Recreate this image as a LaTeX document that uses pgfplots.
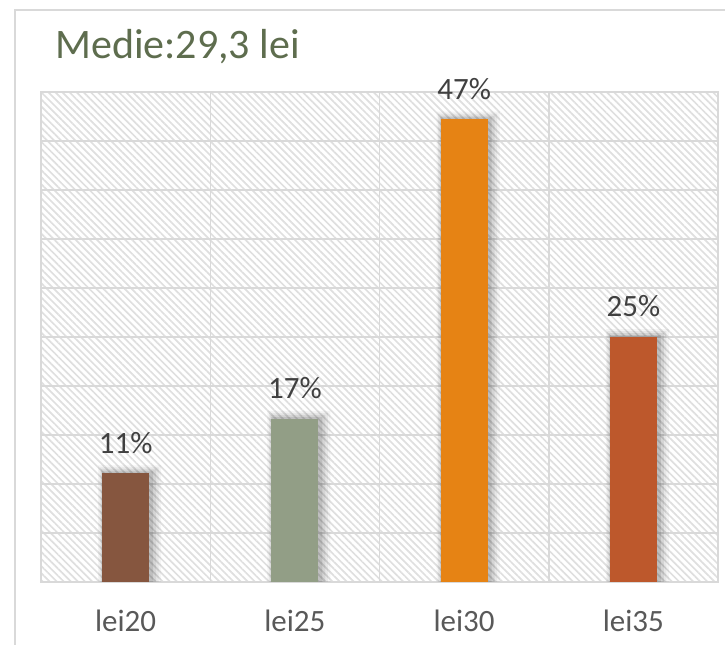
\documentclass[border=0pt]{standalone}
\usepackage{fontspec}
\setmainfont{Carlito}
\usepackage{pgfplots}
\pgfplotsset{compat=1.18}
\usetikzlibrary{patterns.meta}
\definecolor{cA}{HTML}{86563F}
\definecolor{cB}{HTML}{929E86}
\definecolor{cC}{HTML}{E68314}
\definecolor{cD}{HTML}{BD582C}
\definecolor{gridc}{HTML}{D9D9D9}
\definecolor{titlec}{HTML}{5E6D4E}
\definecolor{labc}{HTML}{404040}
\definecolor{tickc}{HTML}{595959}
\begin{document}
\begin{tikzpicture}[x=1bp,y=1bp]
\path[use as bounding box] (0,0) rectangle (725,645);
\draw[gridc, line width=1.5bp] (15,-20) -- (15,635) -- (760,635);
\node[anchor=base west, text=titlec, font=\fontsize{42bp}{50bp}\selectfont, inner sep=0pt] at (55,586) {Medie:29,3 lei};
\begin{axis}[
  at={(41bp,63bp)}, anchor=south west,
  scale only axis, width=677bp, height=490bp,
  xmin=-0.5, xmax=3.5, ymin=0, ymax=50,
  xtick={0,1,2,3}, xticklabels={lei20,lei25,lei30,lei35},
  minor xtick={0.5,1.5,2.5}, xminorgrids=true,
  ytick={0,5,...,50}, ymajorgrids=true, yticklabels={},
  major tick length=0pt, minor tick length=0pt,
  axis line style={gridc, line width=1.5bp},
  grid style={gridc, line width=1.5bp},
  minor grid style={gridc, line width=1.5bp},
  tick style={draw=none},
  xticklabel style={font=\fontsize{31bp}{36bp}\selectfont, text=tickc, anchor=base, yshift=-50bp},
  axis background/.style={pattern={Lines[angle=-45,distance=5bp,line width=1.7bp]}, pattern color=gray!25},
  clip=false,
  every node near coord/.append style={font=\fontsize{31bp}{36bp}\selectfont, text=labc, anchor=base, yshift=20bp, inner sep=0pt},
]
% soft shadow layers
\addplot[ybar, bar width=63bp, bar shift=4bp, fill=black, fill opacity=0.04, draw=none] coordinates {(0,11.9) (1,17.45) (2,48.0) (3,25.8)};
\addplot[ybar, bar width=59bp, bar shift=3.5bp, fill=black, fill opacity=0.06, draw=none] coordinates {(0,11.7) (1,17.25) (2,47.8) (3,25.6)};
\addplot[ybar, bar width=55bp, bar shift=3bp, fill=black, fill opacity=0.08, draw=none] coordinates {(0,11.5) (1,17.05) (2,47.6) (3,25.4)};
\addplot[ybar, bar width=51bp, bar shift=2bp, fill=black, fill opacity=0.1, draw=none] coordinates {(0,11.3) (1,16.85) (2,47.4) (3,25.2)};
% bars
\addplot[ybar, bar width=47bp, bar shift=0bp, fill=cA, draw=none, nodes near coords, point meta=explicit symbolic] coordinates {(0,11.11) [11\%]};
\addplot[ybar, bar width=47bp, bar shift=0bp, fill=cB, draw=none, nodes near coords, point meta=explicit symbolic] coordinates {(1,16.67) [17\%]};
\addplot[ybar, bar width=47bp, bar shift=0bp, fill=cC, draw=none, nodes near coords, point meta=explicit symbolic] coordinates {(2,47.22) [47\%]};
\addplot[ybar, bar width=47bp, bar shift=0bp, fill=cD, draw=none, nodes near coords, point meta=explicit symbolic] coordinates {(3,25.00) [25\%]};
\end{axis}
\end{tikzpicture}
\end{document}
